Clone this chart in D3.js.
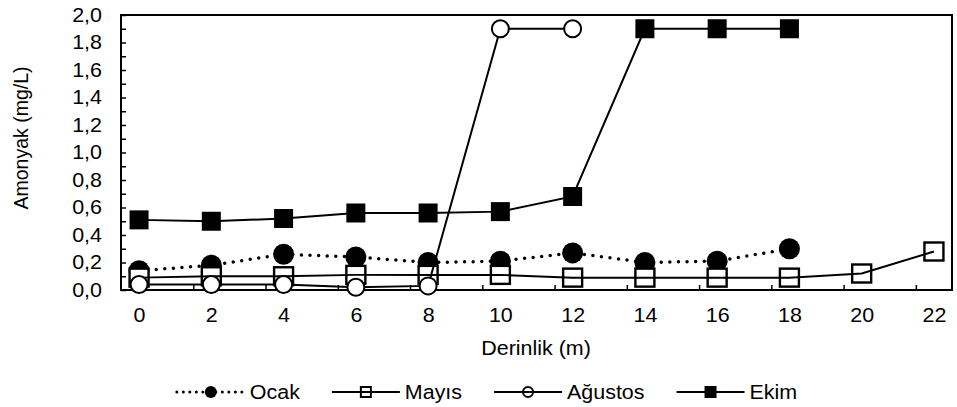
<!DOCTYPE html>
<html>
<head>
<meta charset="utf-8">
<script src="https://cdn.jsdelivr.net/npm/d3@7"></script>
<style>
  body { margin: 0; background: #fff; }
  svg text { font-family: "Liberation Sans", Arial, sans-serif; fill: #000; }
</style>
</head>
<body>
<svg id="chart" width="957" height="407"></svg>
<script>
// depth (m) and ammonia (mg/L) per month
var depths  = [0, 2, 4, 6, 8, 10, 12, 14, 16, 18, 20, 22];
var ocak    = [0.14, 0.18, 0.26, 0.24, 0.20, 0.21, 0.27, 0.20, 0.21, 0.30];
var mayis   = [0.09, 0.10, 0.10, 0.11, 0.11, 0.11, 0.09, 0.09, 0.09, 0.09, 0.12, 0.28];
var agustos = [0.04, 0.04, 0.04, 0.02, 0.03, 1.90, 1.90];
var ekim    = [0.51, 0.50, 0.52, 0.56, 0.56, 0.57, 0.68, 1.90, 1.90, 1.90];

var seriesNames = ["Ocak", "Mayıs", "Ağustos", "Ekim"];
var yTicks = [0, 0.2, 0.4, 0.6, 0.8, 1.0, 1.2, 1.4, 1.6, 1.8, 2.0];

var FS = 19.5, SX = 1.1;   // font size, horizontal stretch of the text
var box = {left: 121, top: 15, right: 952, bottom: 290};

var trLocale = d3.formatLocale({decimal: ",", thousands: ".", grouping: [3], currency: ["", " TL"]});
var fmt = trLocale.format(".1f");

var svg = d3.select("#chart");

var x = d3.scaleLinear().domain([-0.5, 22.5]).range([box.left, box.right]);
var y = d3.scaleLinear().domain([0, 2]).range([box.bottom, box.top]);

function stretchText(sel) {
    sel.each(function() {
        var t = d3.select(this);
        var tx = +t.attr("x") || 0, ty = +t.attr("y") || 0;
        t.attr("transform", "translate(" + tx + "," + ty + ") scale(" + SX + ",1)")
         .attr("x", 0).attr("y", 0);
    });
}

// y minor ticks (every 0.1), inside the plot
svg.append("g")
    .attr("transform", "translate(" + box.left + ",0)")
    .call(d3.axisLeft(y).tickValues(d3.range(0, 2.01, 0.1)).tickSize(-5).tickFormat(""))
    .call(function(g) { g.select(".domain").remove(); g.selectAll("line").attr("stroke-width", 1.5); });

// y labels
var yAxis = svg.append("g")
    .attr("transform", "translate(" + box.left + ",0)")
    .call(d3.axisLeft(y).tickValues(yTicks).tickSize(0).tickPadding(19).tickFormat(fmt));
yAxis.select(".domain").remove();
yAxis.selectAll("text").style("font-size", FS + "px").attr("font-family", null).call(stretchText);

// x tick marks between category pairs
svg.append("g")
    .attr("transform", "translate(0," + box.bottom + ")")
    .call(d3.axisBottom(x).tickValues(d3.range(1.5, 22, 2)).tickSize(-5).tickFormat(""))
    .call(function(g) { g.select(".domain").remove(); g.selectAll("line").attr("stroke-width", 1.5); });

// x labels
var xAxis = svg.append("g")
    .attr("transform", "translate(0," + box.bottom + ")")
    .call(d3.axisBottom(x).tickValues(depths).tickSize(0).tickPadding(18).tickFormat(d3.format("d")));
xAxis.select(".domain").remove();
xAxis.selectAll("text").style("font-size", FS + "px").attr("font-family", null).call(stretchText);

// plot frame
svg.append("rect")
    .attr("x", box.left).attr("y", box.top)
    .attr("width", box.right - box.left).attr("height", box.bottom - box.top)
    .attr("fill", "none").attr("stroke", "#000").attr("stroke-width", 2);

// axis titles
svg.append("text")
    .attr("x", 536).attr("y", 355)
    .attr("text-anchor", "middle")
    .style("font-size", FS + "px")
    .text("Derinlik (m)")
    .call(stretchText);

svg.append("text")
    .attr("transform", "translate(28,138) rotate(-90)")
    .attr("text-anchor", "middle")
    .style("font-size", FS + "px")
    .text("Amonyak (mg/L)");

function pts(vals) { return vals.map(function(v, i) { return [depths[i], v]; }); }
var line = d3.line().x(function(d) { return x(d[0]); }).y(function(d) { return y(d[1]); });

var plot = svg.append("g");

// Ocak: dotted line, filled circles
plot.append("path").datum(pts(ocak)).attr("d", line)
    .attr("fill", "none").attr("stroke", "#000").attr("stroke-width", 3.5)
    .attr("stroke-linecap", "round").attr("stroke-dasharray", "0,8.6");
plot.append("g").selectAll("circle").data(pts(ocak)).join("circle")
    .attr("cx", function(d) { return x(d[0]); }).attr("cy", function(d) { return y(d[1]); })
    .attr("r", 10.5).attr("fill", "#000");

// Mayıs: open squares, solid line
plot.append("g").selectAll("rect").data(pts(mayis)).join("rect")
    .attr("x", function(d) { return x(d[0]) - 9.5; }).attr("y", function(d) { return y(d[1]) - 9; })
    .attr("width", 19).attr("height", 18)
    .attr("fill", "#fff").attr("stroke", "#000").attr("stroke-width", 2.4);
plot.append("path").datum(pts(mayis)).attr("d", line)
    .attr("fill", "none").attr("stroke", "#000").attr("stroke-width", 2);

// Ağustos: open circles, solid line
plot.append("path").datum(pts(agustos)).attr("d", line)
    .attr("fill", "none").attr("stroke", "#000").attr("stroke-width", 2);
plot.append("g").selectAll("circle").data(pts(agustos)).join("circle")
    .attr("cx", function(d) { return x(d[0]); }).attr("cy", function(d) { return y(d[1]); })
    .attr("r", 8.5).attr("fill", "#fff").attr("stroke", "#000").attr("stroke-width", 2);

// Ekim: filled squares, solid line
plot.append("path").datum(pts(ekim)).attr("d", line)
    .attr("fill", "none").attr("stroke", "#000").attr("stroke-width", 2);
plot.append("g").selectAll("rect").data(pts(ekim)).join("rect")
    .attr("x", function(d) { return x(d[0]) - 9.5; }).attr("y", function(d) { return y(d[1]) - 9.5; })
    .attr("width", 19).attr("height", 19).attr("fill", "#000");

// legend
var legY = 392, lineLen = 68, gapAfterLine = 5, itemGap = 32;
var legend = svg.append("g");
var items = legend.selectAll("g").data(seriesNames).join("g");

items.each(function(name, i) {
    var g = d3.select(this);
    var mid = lineLen / 2;
    var l = g.append("line").attr("x1", 0).attr("x2", lineLen).attr("y1", legY).attr("y2", legY)
        .attr("stroke", "#000");
    if (i === 0) {
        l.attr("stroke-width", 3).attr("stroke-linecap", "round").attr("stroke-dasharray", "0,6.5");
        g.append("circle").attr("cx", mid).attr("cy", legY).attr("r", 6).attr("fill", "#000");
    } else if (i === 1) {
        l.attr("stroke-width", 2);
        g.append("rect").attr("x", mid - 5).attr("y", legY - 5).attr("width", 10).attr("height", 10)
            .attr("fill", "none").attr("stroke", "#000").attr("stroke-width", 2);
    } else if (i === 2) {
        l.attr("stroke-width", 2);
        g.append("circle").attr("cx", mid).attr("cy", legY).attr("r", 5)
            .attr("fill", "none").attr("stroke", "#000").attr("stroke-width", 2);
    } else {
        l.attr("stroke-width", 2);
        g.append("rect").attr("x", mid - 6).attr("y", legY - 6).attr("width", 12).attr("height", 12)
            .attr("fill", "#000");
    }
    g.append("text").attr("class", "lab")
        .attr("x", lineLen + gapAfterLine).attr("y", legY + 0.358 * FS)
        .style("font-size", FS + "px")
        .text(name)
        .call(stretchText);
});

// place legend items side by side, centred at x = 487
var widths = [];
items.each(function() {
    var t = d3.select(this).select("text.lab").node();
    widths.push(lineLen + gapAfterLine + t.getComputedTextLength() * SX);
});
var total = d3.sum(widths) + itemGap * (widths.length - 1);
var cursor = 487 - total / 2;
items.attr("transform", function(d, i) {
    var tx = cursor;
    cursor += widths[i] + itemGap;
    return "translate(" + tx + ",0)";
});
</script>
</body>
</html>
